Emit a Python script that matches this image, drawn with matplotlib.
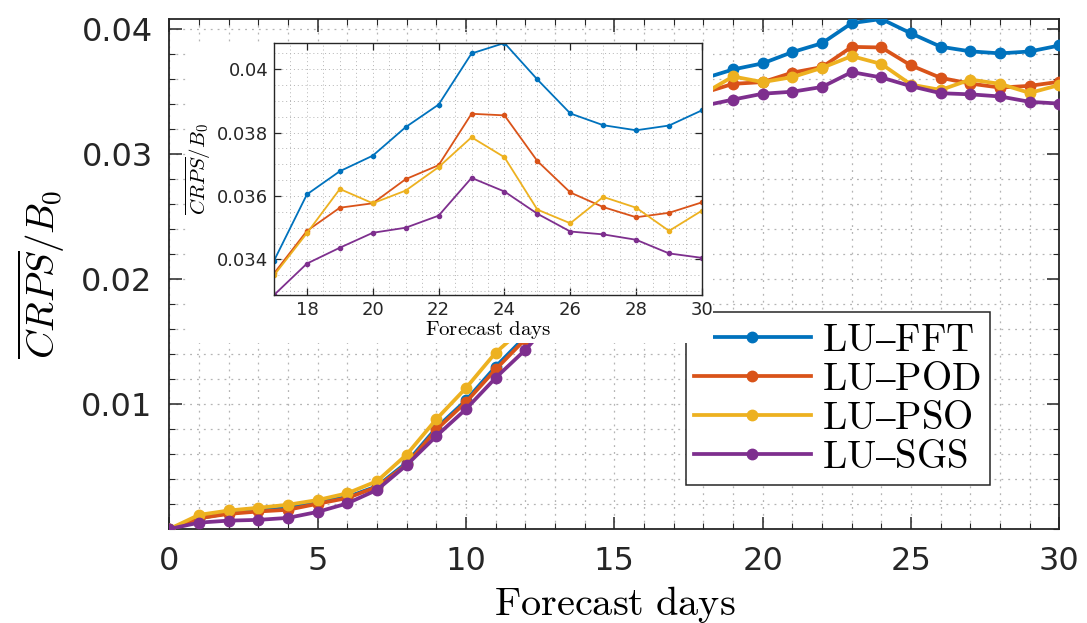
import numpy as np
import matplotlib
matplotlib.use('Agg')
import matplotlib.pyplot as plt
from matplotlib.patches import Rectangle
from matplotlib.ticker import MultipleLocator

plt.rcParams['mathtext.fontset'] = 'cm'
plt.rcParams['font.family'] = ['DejaVu Sans']

# forecast horizon (days) and mean CRPS normalised by B0 for each method
days = np.arange(0, 31)

crps_fft = [0.0, 0.00086, 0.00127, 0.00148, 0.00167, 0.00213, 0.00256, 0.00342,
            0.00531, 0.00809, 0.0103, 0.01299, 0.0154, 0.0185, 0.0225, 0.0268,
            0.0305, 0.03396, 0.03605, 0.03678, 0.03727, 0.03817, 0.03888, 0.04049,
            0.04082, 0.03967, 0.0386, 0.03823, 0.03807, 0.03822, 0.0387]
crps_pod = [0.0, 0.00086, 0.00121, 0.0014, 0.00154, 0.00202, 0.00248, 0.00337,
            0.00518, 0.00795, 0.01016, 0.01278, 0.0152, 0.0182, 0.0222, 0.0265,
            0.0302, 0.03356, 0.0349, 0.03563, 0.03577, 0.03653, 0.03697, 0.03859,
            0.03854, 0.0371, 0.03611, 0.03565, 0.03533, 0.03547, 0.0358]
crps_pso = [0.0, 0.00113, 0.00148, 0.0017, 0.00194, 0.00232, 0.00286, 0.00383,
            0.00596, 0.00879, 0.01129, 0.01412, 0.0162, 0.0192, 0.023, 0.0268,
            0.0303, 0.0335, 0.03483, 0.03622, 0.03577, 0.03617, 0.03691, 0.03785,
            0.03722, 0.03557, 0.03514, 0.03597, 0.03563, 0.0349, 0.03554]
crps_sgs = [0.0, 0.00051, 0.00067, 0.00073, 0.00089, 0.00137, 0.00205, 0.00313,
            0.00512, 0.00744, 0.0096, 0.0121, 0.01434, 0.017, 0.021, 0.0252,
            0.0292, 0.03288, 0.03387, 0.03437, 0.03484, 0.035, 0.03538, 0.03657,
            0.03614, 0.03544, 0.03488, 0.03479, 0.03462, 0.03419, 0.03405]

labels = [r'$\mathrm{LU–FFT}$', r'$\mathrm{LU–POD}$',
          r'$\mathrm{LU–PSO}$', r'$\mathrm{LU–SGS}$']
colors = ['#0072BD', '#D95319', '#EDB120', '#7E2F8E']
series = [crps_fft, crps_pod, crps_pso, crps_sgs]

zoom_start = 17
frame_col = '#262626'
grid_col = '#b4b4b4'

fig = plt.figure(figsize=(10.87, 6.23), dpi=100)
ax = fig.add_axes([0.1558, 0.1509, 0.8188, 0.8186])

handles = []
for vals, col in zip(series, colors):
    h, = ax.plot(days, vals, '-o', color=col, lw=2.7, ms=7.5, zorder=3)
    handles.append(h)

ax.set_xlim(0, 30)
ax.set_ylim(0, max(max(s) for s in series))
ax.set_xticks(np.arange(0, 31, 5))
ax.set_yticks([0.01, 0.02, 0.03, 0.04])
ax.set_yticklabels(['0.01', '0.02', '0.03', '0.04'])
ax.xaxis.set_minor_locator(MultipleLocator(1))
ax.yaxis.set_minor_locator(MultipleLocator(0.002))
ax.grid(True, which='both', linestyle=(0, (1.5, 4)), color=grid_col, lw=0.9)
ax.tick_params(which='both', direction='in', top=True, right=True,
               color=frame_col, labelcolor=frame_col)
ax.tick_params(which='major', length=9, width=1.1, labelsize=23, pad=12)
ax.tick_params(which='minor', length=4, width=0.8)
for sp in ax.spines.values():
    sp.set_color(frame_col)
    sp.set_linewidth(1.3)
ax.set_xlabel(r'$\mathrm{Forecast\ days}$', fontsize=29, labelpad=5)
ax.set_ylabel(r'$\overline{CRPS}/B_0$', fontsize=28, labelpad=10)

leg = ax.legend(handles, labels, loc='upper right',
                bbox_to_anchor=(990 / 1087, 1 - 312 / 623),
                bbox_transform=fig.transFigure, fontsize=28, numpoints=1,
                fancybox=False, framealpha=1, edgecolor=frame_col,
                borderpad=0.22, handlelength=3.0, handletextpad=0.3,
                labelspacing=0.03, borderaxespad=0)
leg.get_frame().set_linewidth(1.1)

# white backing behind the zoomed panel
fig.patches.append(Rectangle((187 / 1087, 1 - 343 / 623), 526 / 1087, 301 / 623,
                             transform=fig.transFigure, facecolor='white',
                             edgecolor='none', zorder=1))

# zoomed view of the last two weeks
ins = fig.add_axes([274 / 1087, 1 - 295 / 623, 428 / 1087, 252 / 623], zorder=2)
for vals, col in zip(series, colors):
    ins.plot(days[zoom_start:], vals[zoom_start:], '-o', color=col, lw=1.3, ms=3)
tail = [v for s in series for v in s[zoom_start:]]
ins.set_xlim(zoom_start, 30)
ins.set_ylim(min(tail), max(tail))
ins.set_xticks(np.arange(18, 31, 2))
ins.set_yticks([0.034, 0.036, 0.038, 0.04])
ins.set_yticklabels(['0.034', '0.036', '0.038', '0.04'])
ins.xaxis.set_minor_locator(MultipleLocator(0.5))
ins.yaxis.set_minor_locator(MultipleLocator(0.0005))
ins.grid(True, which='both', linestyle=(0, (1, 3)), color=grid_col, lw=0.7)
ins.tick_params(which='both', direction='in', top=True, right=True,
                color=frame_col, labelcolor=frame_col)
ins.tick_params(which='major', length=5, width=0.9, labelsize=13, pad=4)
ins.tick_params(which='minor', length=0)
for sp in ins.spines.values():
    sp.set_color(frame_col)
    sp.set_linewidth(1.0)
ins.set_xlabel(r'$\mathrm{Forecast\ days}$', fontsize=15, labelpad=0)
ins.set_ylabel(r'$\overline{CRPS}/B_0$', fontsize=15, labelpad=3)

fig.savefig('out.png', dpi=100)
